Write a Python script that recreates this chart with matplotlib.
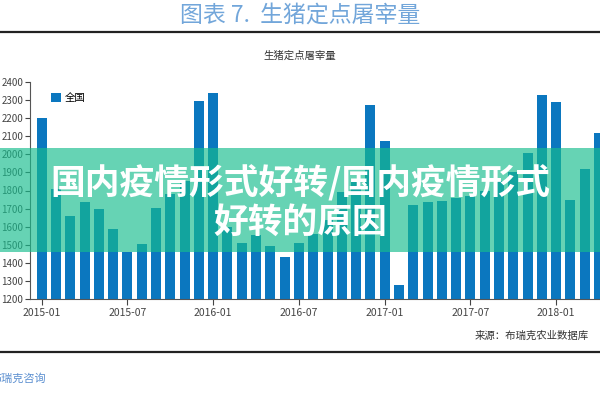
import matplotlib
matplotlib.use("Agg")
import matplotlib.pyplot as plt
from matplotlib.patches import Rectangle
import numpy as np

plt.rcParams['font.family'] = ['Noto Sans CJK SC', 'DejaVu Sans']

# monthly slaughter, 2015-01 .. 2018-04 (hidden tops estimated)
vals_2015 = [2198, 1811, 1660, 1737, 1697, 1590, 1460, 1503, 1704, 1780, 1850, 2293]
vals_2016 = [2339, 1600, 1510, 1553, 1494, 1435, 1513, 1560, 1640, 1790, 1850, 2271]
vals_2017 = [2074, 1277, 1719, 1737, 1740, 1760, 1770, 1800, 1850, 1900, 2008, 2326]
vals_2018 = [2288, 1750, 1916, 2118]
values = vals_2015 + vals_2016 + vals_2017 + vals_2018
tick_labels = ["2015-01", "2015-07", "2016-01", "2016-07", "2017-01", "2017-07", "2018-01"]
y_ticks = list(range(1200, 2401, 100))

W, H = 600, 400
fig = plt.figure(figsize=(6, 4), dpi=100)
fig.patch.set_facecolor("white")

def fx(px):
    return px / W

def fy(py):
    return 1 - py / H

# page title and rules
fig.text(0.5, fy(15), "图表 7.  生猪定点屠宰量", ha="center", va="center",
         fontsize=16.5, color="#72a6da")
fig.add_artist(plt.Line2D([0, 1], [fy(31.5), fy(31.5)], color="#222222", lw=1.6))
fig.add_artist(plt.Line2D([0, 1], [fy(352), fy(352)], color="#222222", lw=1.6))
fig.text(0.5, fy(56), "生猪定点屠宰量", ha="center", va="center", fontsize=7.5, color="#333333")

# chart
ax = fig.add_axes([fx(30), fy(299.3), fx(570), (299.3 - 81.7) / H])
x = np.arange(len(values))
ax.bar(x, values, width=0.7, color="#0b77bf", label="全国", zorder=2)
ax.set_ylim(1200, 2400)
ax.set_xlim(-0.82, 39.07)
ax.set_yticks(y_ticks)
ax.set_yticklabels([str(v) for v in y_ticks])
ax.set_xticks([0, 6, 12, 18, 24, 30, 36])
ax.set_xticklabels(tick_labels)
ax.tick_params(axis="x", labelsize=7.5, colors="#444444", length=4, width=0.8, pad=2)
ax.tick_params(axis="y", labelsize=7, colors="#444444", length=3.5, width=0.8, pad=1.5)
for side in ["top", "right"]:
    ax.spines[side].set_visible(False)
for side in ["left", "bottom"]:
    ax.spines[side].set_color("#555555")
    ax.spines[side].set_linewidth(0.8)
ax.legend(loc="upper left", bbox_to_anchor=(0.02, 0.99), frameon=False, fontsize=7.5,
          handlelength=1.0, handleheight=0.9, handletextpad=0.3)

fig.text(fx(475), fy(336), "来源：布瑞克农业数据库", ha="left", va="center",
         fontsize=7.5, color="#333333")
fig.text(fx(-9), fy(379), "布瑞克咨询", ha="left", va="center",
         fontsize=8, color="#5b8fd0", style="italic")

# overlay banner
fig.add_artist(Rectangle((0, fy(252)), 1, (252 - 148) / H, transform=fig.transFigure,
                         facecolor="#17bd8e", alpha=0.66, edgecolor="none", zorder=5))
fig.text(0.5, fy(183), "国内疫情形式好转/国内疫情形式", ha="center", va="center",
         fontsize=25, color="white", fontweight="heavy", zorder=6)
fig.text(0.5, fy(222), "好转的原因", ha="center", va="center",
         fontsize=25, color="white", fontweight="heavy", zorder=6)

fig.savefig("out.png", dpi=100)
